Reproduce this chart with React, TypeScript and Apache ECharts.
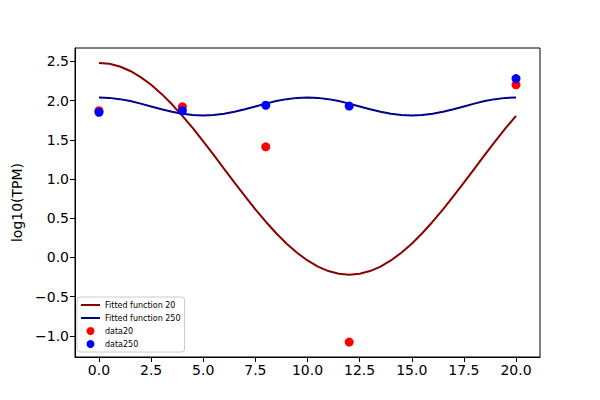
import React, { useEffect, useRef } from 'react';
import * as echarts from 'echarts';

// fitted curves, every half unit of x
const fitX = [
  0, 0.5, 1, 1.5, 2, 2.5, 3, 3.5, 4, 4.5, 5, 5.5, 6, 6.5, 7, 7.5, 8, 8.5, 9, 9.5, 10,
  10.5, 11, 11.5, 12, 12.5, 13, 13.5, 14, 14.5, 15, 15.5, 16, 16.5, 17, 17.5, 18, 18.5, 19, 19.5, 20,
];
const fit20 = [
  2.48, 2.468, 2.434, 2.377, 2.299, 2.201, 2.085, 1.952, 1.805, 1.647, 1.479, 1.306, 1.13, 0.954, 0.781, 0.613, 0.455, 0.308, 0.175, 0.059, -0.039,
  -0.117, -0.174, -0.208, -0.22, -0.208, -0.174, -0.117, -0.039, 0.059, 0.175, 0.308, 0.455, 0.613, 0.781, 0.954, 1.13, 1.306, 1.479, 1.647, 1.805,
];
const fit250 = [
  2.04, 2.034, 2.018, 1.993, 1.961, 1.925, 1.889, 1.857, 1.832, 1.816, 1.81, 1.816, 1.832, 1.857, 1.889, 1.925, 1.961, 1.993, 2.018, 2.034, 2.04,
  2.034, 2.018, 1.993, 1.961, 1.925, 1.889, 1.857, 1.832, 1.816, 1.81, 1.816, 1.832, 1.857, 1.889, 1.925, 1.961, 1.993, 2.018, 2.034, 2.04,
];

// measured points
const sampleX = [0, 4, 8, 12, 20];
const data20 = [1.87, 1.92, 1.41, -1.08, 2.2];
const data250 = [1.85, 1.87, 1.94, 1.93, 2.28];

const xTicks = [0, 2.5, 5, 7.5, 10, 12.5, 15, 17.5, 20];
const yTicks = [-1, -0.5, 0, 0.5, 1, 1.5, 2, 2.5];

const font = 'DejaVu Sans';
const lineIcon = 'path://M0,0H19V2H0Z';

const pairs = (xs: number[], ys: number[]) => xs.map((x, i) => [x, ys[i]]);

const App: React.FC = () => {
  const chartRef = useRef<HTMLDivElement>(null);

  useEffect(() => {
    document.body.style.margin = '0';
    if (!chartRef.current) return;
    const myChart = echarts.init(chartRef.current, undefined, { renderer: 'svg' });

    const option = {
      animation: false,
      backgroundColor: '#fff',
      grid: {
        left: 75,
        right: 60,
        top: 48,
        bottom: 43,
        show: true,
        borderColor: '#000',
        borderWidth: 1,
      },
      xAxis: {
        type: 'value',
        min: -1.15,
        max: 21.15,
        axisLine: { onZero: false, lineStyle: { color: '#000', width: 1 } },
        axisTick: { show: true, length: 5, lineStyle: { color: '#000' }, customValues: xTicks },
        axisLabel: {
          customValues: xTicks,
          formatter: (v: number) => v.toFixed(1),
          color: '#000',
          fontSize: 14,
          fontFamily: font,
          margin: 6,
        },
        splitLine: { show: false },
      },
      yAxis: {
        type: 'value',
        min: -1.27,
        max: 2.67,
        name: 'log10(TPM)',
        nameLocation: 'middle',
        nameGap: 50,
        nameTextStyle: { color: '#000', fontSize: 14, fontFamily: font },
        axisLine: { show: true, onZero: false, lineStyle: { color: '#000', width: 1 } },
        axisTick: { show: true, length: 5, lineStyle: { color: '#000' }, customValues: yTicks },
        axisLabel: {
          customValues: yTicks,
          formatter: (v: number) => v.toFixed(1).replace('-', '\u2212'),
          color: '#000',
          fontSize: 14,
          fontFamily: font,
          margin: 6,
        },
        splitLine: { show: false },
      },
      legend: {
        orient: 'vertical',
        left: 77,
        top: 297,
        itemWidth: 19,
        itemHeight: 8,
        itemGap: 5,
        itemTextGap: 5,
        padding: [4, 4, 4, 4],
        backgroundColor: 'rgba(255,255,255,0.8)',
        borderColor: '#cccccc',
        borderWidth: 1,
        borderRadius: 3,
        textStyle: { color: '#000', fontSize: 8, fontFamily: font },
        data: [
          { name: 'Fitted function 20', icon: lineIcon },
          { name: 'Fitted function 250', icon: lineIcon },
          { name: 'data20', icon: 'circle' },
          { name: 'data250', icon: 'circle' },
        ],
      },
      series: [
        {
          name: 'Fitted function 20',
          type: 'line',
          data: pairs(fitX, fit20),
          smooth: false,
          symbol: 'none',
          lineStyle: { color: '#8b0000', width: 2 },
          itemStyle: { color: '#8b0000' },
          z: 2,
        },
        {
          name: 'Fitted function 250',
          type: 'line',
          data: pairs(fitX, fit250),
          smooth: false,
          symbol: 'none',
          lineStyle: { color: '#00008b', width: 2 },
          itemStyle: { color: '#00008b' },
          z: 2,
        },
        {
          name: 'data20',
          type: 'scatter',
          data: pairs(sampleX, data20),
          symbolSize: 9,
          itemStyle: { color: '#ff0000', opacity: 1 },
          z: 3,
        },
        {
          name: 'data250',
          type: 'scatter',
          data: pairs(sampleX, data250),
          symbolSize: 9,
          itemStyle: { color: '#0000ff', opacity: 1 },
          z: 4,
        },
      ],
    };

    myChart.setOption(option);

    return () => {
      myChart.dispose();
    };
  }, []);

  return <div ref={chartRef} style={{ width: 600, height: 400 }} />;
};

export default App;
